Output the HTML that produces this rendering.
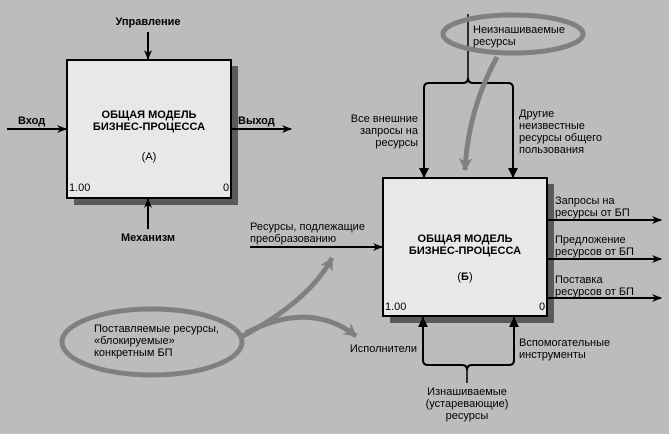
<!DOCTYPE html>
<html><head><meta charset="utf-8"><style>
html,body{margin:0;padding:0;background:#bcbcbc;}
svg{display:block;}
text{font-family:"Liberation Sans Narrow","Liberation Sans",sans-serif;font-size:11px;fill:#000;}
.b{font-weight:bold;}
</style></head><body>
<svg width="669" height="434" viewBox="0 0 669 434">
<defs>
<marker id="a" markerWidth="10" markerHeight="8" refX="9" refY="4" orient="auto" markerUnits="userSpaceOnUse"><path d="M0,0 L10,4 L0,8 L3,4 Z" fill="#000"/></marker>
<marker id="g" markerWidth="14" markerHeight="14" refX="12" refY="7" orient="auto" markerUnits="userSpaceOnUse"><path d="M0,0 L13,7 L0,14 L4,7 Z" fill="#808080"/></marker>
</defs>
<rect x="0" y="0" width="669" height="434" fill="#bcbcbc"/>
<!-- Box A -->
<rect x="74" y="66" width="164" height="139" fill="#5a5a5a"/>
<rect x="67" y="60" width="164" height="138" fill="#e8e8e8" stroke="#000" stroke-width="2"/>
<text x="149" y="118" text-anchor="middle" class="b">ОБЩАЯ МОДЕЛЬ</text>
<text x="149" y="130" text-anchor="middle" class="b">БИЗНЕС-ПРОЦЕССА</text>
<text x="149" y="160" text-anchor="middle">(А)</text>
<text x="69" y="191">1.00</text>
<text x="223" y="191">0</text>
<text x="148" y="25" text-anchor="middle" class="b">Управление</text>
<line x1="148" y1="32" x2="148" y2="59" stroke="#000" stroke-width="2" marker-end="url(#a)"/>
<text x="18" y="124" class="b">Вход</text>
<line x1="7" y1="129" x2="66" y2="129" stroke="#000" stroke-width="2" marker-end="url(#a)"/>
<text x="238" y="124" class="b">Выход</text>
<line x1="232" y1="129" x2="291" y2="129" stroke="#000" stroke-width="2" marker-end="url(#a)"/>
<line x1="148" y1="229" x2="148" y2="199" stroke="#000" stroke-width="2" marker-end="url(#a)"/>
<text x="148" y="241" text-anchor="middle" class="b">Механизм</text>
<!-- Box B -->
<rect x="390" y="184" width="164" height="139" fill="#5a5a5a"/>
<rect x="383" y="178" width="164" height="138" fill="#e8e8e8" stroke="#000" stroke-width="2"/>
<text x="465" y="242" text-anchor="middle" class="b">ОБЩАЯ МОДЕЛЬ</text>
<text x="465" y="254" text-anchor="middle" class="b">БИЗНЕС-ПРОЦЕССА</text>
<text x="465" y="280" text-anchor="middle">(<tspan class="b">Б</tspan>)</text>
<text x="385" y="310">1.00</text>
<text x="539" y="310">0</text>
<!-- top brace -->
<line x1="468" y1="14" x2="468" y2="78" stroke="#000" stroke-width="1.5"/>
<path d="M424,177 L424,88 Q424,83 429,83 L463,83 Q468,83 468,78 Q468,83 473,83 L508,83 Q513,83 513,88 L513,177" fill="none" stroke="#000" stroke-width="2"/>
<path d="M419,168 L424,178 L429,168 Z M508,168 L513,178 L518,168 Z" fill="#000"/>
<text x="418" y="122" text-anchor="end">Все внешние</text>
<text x="418" y="134" text-anchor="end">запросы на</text>
<text x="418" y="146" text-anchor="end">ресурсы</text>
<text x="519" y="117">Другие</text>
<text x="519" y="129">неизвестные</text>
<text x="519" y="141">ресурсы общего</text>
<text x="519" y="153">пользования</text>
<ellipse cx="513" cy="34" rx="70" ry="19" fill="none" stroke="#808080" stroke-width="5"/>
<text x="473" y="33">Неизнашиваемые</text>
<text x="473" y="45">ресурсы</text>
<path d="M497,57 Q468,110 465,170" fill="none" stroke="#808080" stroke-width="5" marker-end="url(#g)"/>
<!-- left input -->
<text x="250" y="230">Ресурсы, подлежащие</text>
<text x="250" y="242">преобразованию</text>
<line x1="250" y1="247" x2="382" y2="247" stroke="#000" stroke-width="2" marker-end="url(#a)"/>
<!-- outputs -->
<text x="555" y="204">Запросы на</text>
<text x="555" y="216">ресурсы от БП</text>
<line x1="548" y1="220" x2="661" y2="220" stroke="#000" stroke-width="2" marker-end="url(#a)"/>
<text x="555" y="243">Предложение</text>
<text x="555" y="255">ресурсов от БП</text>
<line x1="548" y1="259" x2="661" y2="259" stroke="#000" stroke-width="2" marker-end="url(#a)"/>
<text x="555" y="283">Поставка</text>
<text x="555" y="295">ресурсов от БП</text>
<line x1="548" y1="298" x2="661" y2="298" stroke="#000" stroke-width="2" marker-end="url(#a)"/>
<!-- bottom brace -->
<path d="M423,317 L423,360 Q423,365 428,365 L462,365 Q467,365 467,370 Q467,365 472,365 L509,365 Q514,365 514,360 L514,317" fill="none" stroke="#000" stroke-width="2"/>
<path d="M418,327 L423,317 L428,327 Z M509,327 L514,317 L519,327 Z" fill="#000"/>
<line x1="467" y1="370" x2="467" y2="383" stroke="#000" stroke-width="1.5"/>
<text x="417" y="352" text-anchor="end">Исполнители</text>
<text x="519" y="346">Вспомогательные</text>
<text x="519" y="358">инструменты</text>
<text x="467" y="395" text-anchor="middle">Изнашиваемые</text>
<text x="467" y="407" text-anchor="middle">(устаревающие)</text>
<text x="467" y="419" text-anchor="middle">ресурсы</text>
<!-- left ellipse -->
<ellipse cx="152" cy="342" rx="90" ry="33" fill="none" stroke="#808080" stroke-width="5"/>
<text x="94" y="332">Поставляемые ресурсы,</text>
<text x="94" y="344">«блокируемые»</text>
<text x="94" y="356">конкретным БП</text>
<path d="M243,336 Q310,300 332,258" fill="none" stroke="#808080" stroke-width="5" marker-end="url(#g)"/>
<path d="M246,333 Q310,300 356,336" fill="none" stroke="#808080" stroke-width="5" marker-end="url(#g)"/>
</svg>
</body></html>
